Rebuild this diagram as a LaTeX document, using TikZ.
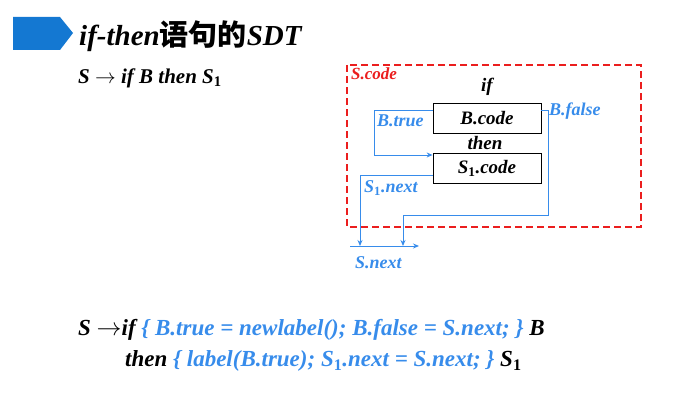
\documentclass[tikz,border=0pt]{standalone}
\usepackage{fontspec}
\setmainfont{Liberation Serif}
\newfontfamily\cjk{Noto Sans CJK SC}
\usetikzlibrary{arrows.meta}
\definecolor{myblue}{RGB}{55,140,235}
\definecolor{myred}{RGB}{235,30,30}
\definecolor{bannerblue}{RGB}{20,120,210}
\newcommand{\rarr}{\ensuremath{\rightarrow}}
\newcommand{\sub}[1]{\textsubscript{\upshape #1}}
\begin{document}
\begin{tikzpicture}[x=1pt,y=-1pt,
  txt/.style={inner sep=0pt,font=\bfseries\itshape},
  lbl/.style={txt,text=myblue,font=\fontsize{18}{18}\selectfont\bfseries\itshape},
  codebox/.style={draw,thick,minimum width=108pt,minimum height=30pt,inner sep=0pt,font=\fontsize{19}{19}\selectfont\bfseries\itshape},
  conn/.style={myblue,line width=0.9pt},
  arr/.style={conn,-{Stealth[length=6pt,width=5pt]}}]
\useasboundingbox (0,0) rectangle (693,404);
% banner
\fill[bannerblue] (13,17) -- (60,17) -- (73,33) -- (60,50) -- (13,50) -- cycle;
\node[txt,anchor=west,font=\fontsize{29}{29}\selectfont\bfseries\itshape] (title) at (79,36) {if-then{\cjk\upshape 语句的}SDT};
\node[txt,anchor=west,font=\fontsize{21}{21}\selectfont\bfseries\itshape] (prod) at (78,78) {S \rarr{} if B then S\sub{1}};
% red dashed box
\draw[myred,line width=1.2pt,dash pattern=on 7pt off 4pt] (347,65) rectangle (641,227);
\node[txt,text=myred,anchor=west,font=\fontsize{17}{17}\selectfont\bfseries\itshape] (scode) at (351,74) {S.code};
\node[txt,font=\fontsize{19}{19}\selectfont\bfseries\itshape] (if) at (487,87) {if};
\node[codebox] (bcode) at (487,118) {B.code};
\node[txt,font=\fontsize{19}{19}\selectfont\bfseries\itshape] (then) at (485,143) {then};
\node[codebox] (scode1) at (487,168) {S\sub{1}.code};
\node[lbl,anchor=west] (bfalse) at (549,111) {B.false};
\node[lbl,anchor=west] (btrue) at (377,121) {B.true};
\node[lbl,anchor=west] (s1next) at (364,188) {S\sub{1}.next};
\node[lbl,anchor=west] (snext) at (355,263) {S.next};
% connectors
\coordinate (t1) at (374,110);
\coordinate (t2) at (374,155);
\draw[arr] (bcode.west |- t1) -- (t1) -- (t2) -- (scode1.west |- t2);
\coordinate (f1) at (548,110);
\coordinate (f2) at (548,215);
\coordinate (f3) at (403,215);
\coordinate (f4) at (403,246);
\draw[arr] (bcode.east |- f1) -- (f1) -- (f2) -- (f3) -- (f4);
\coordinate (n1) at (360,175);
\coordinate (n2) at (360,246);
\draw[arr] (scode1.west |- n1) -- (n1) -- (n2);
\coordinate (h1) at (350,246);
\coordinate (h2) at (419,246);
\draw[arr] (h1) -- (h2);
% bottom text
\node[txt,anchor=west,font=\fontsize{23}{23}\selectfont\bfseries\itshape] (l1) at (78,330) {S \rarr{}if \textcolor{myblue}{\{ B.true = newlabel(); B.false = S.next; \}} B};
\node[txt,anchor=west,font=\fontsize{23}{23}\selectfont\bfseries\itshape] (l2) at (125,361) {then \textcolor{myblue}{\{ label(B.true); S\sub{1}.next = S.next; \}} S\sub{1}};
\end{tikzpicture}
\end{document}
